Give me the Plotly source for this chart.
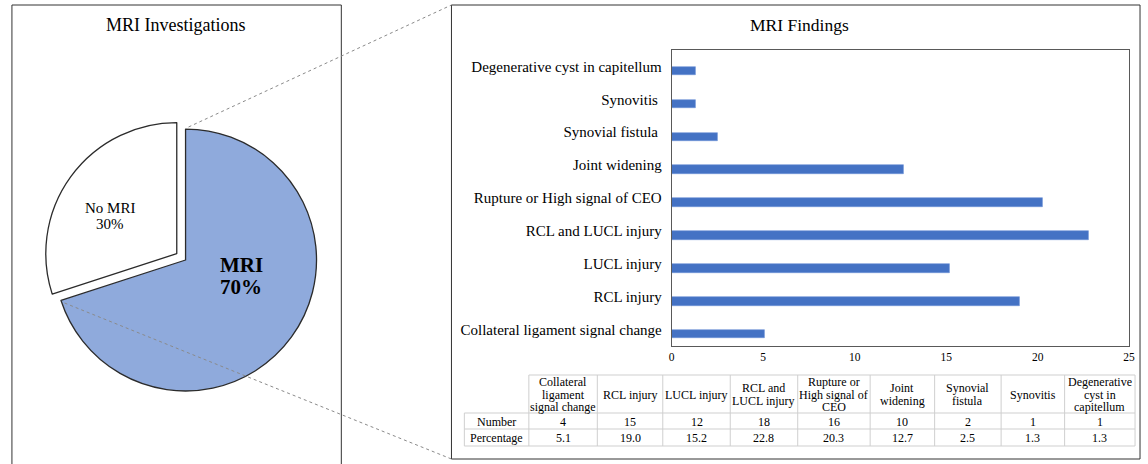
import plotly.graph_objects as go

W, H = 1148, 464

# ---- data ----
pie_labels = ["MRI", "No MRI"]
pie_values = [70, 30]

findings = [
    "Collateral ligament signal change",
    "RCL injury",
    "LUCL injury",
    "RCL and LUCL injury",
    "Rupture or High signal of CEO",
    "Joint widening",
    "Synovial fistula",
    "Synovitis",
    "Degenerative cyst in capitellum",
]
axis_labels = [
    "Collateral ligament signal change",
    "RCL injury",
    "LUCL injury",
    "RCL and LUCL injury",
    "Rupture or High signal of CEO",
    "Joint widening",
    "Synovial fistula\u00a0",
    "Synovitis\u00a0",
    "Degenerative cyst in capitellum",
]
header_lines = [
    ["Collateral", "ligament", "signal change"],
    ["RCL injury"],
    ["LUCL injury"],
    ["RCL and", "LUCL injury"],
    ["Rupture or", "High signal of", "CEO"],
    ["Joint", "widening"],
    ["Synovial", "fistula"],
    ["Synovitis"],
    ["Degenerative", "cyst in", "capitellum"],
]
row_labels = ["Number", "Percentage"]
numbers = [4, 15, 12, 18, 16, 10, 2, 1, 1]
percentages = [5.1, 19.0, 15.2, 22.8, 20.3, 12.7, 2.5, 1.3, 1.3]
x_ticks = [0, 5, 10, 15, 20, 25]

SERIF = "'Liberation Serif', 'Times New Roman', serif"


def px(x):
    return x / W


def py(y):
    return 1 - y / H


def label(text, x, y, size, **kw):
    return dict(text=text, x=px(x), y=py(y), xref="paper", yref="paper",
                xanchor="center", yanchor="middle", showarrow=False,
                font=dict(family=SERIF, size=size, color="#000"), **kw)


fig = go.Figure()

# ---- pie: MRI investigations ----
pull = 0.083
r = 132
cx, cy = 184, 260
half = r * (1 + pull)
fig.add_trace(go.Pie(
    labels=pie_labels,
    values=pie_values,
    sort=False,
    direction="clockwise",
    rotation=0,
    pull=[0, pull],
    marker=dict(colors=["#8FAADC", "#FFFFFF"],
                line=dict(color="#2b2b2b", width=1.3)),
    textinfo="none",
    hoverinfo="label+percent",
    showlegend=False,
    domain=dict(x=[px(cx - half), px(cx + half)],
                y=[py(cy + half), py(cy - half)]),
))

# ---- bars: MRI findings ----
pos = list(range(len(findings)))
fig.add_trace(go.Bar(
    y=pos,
    x=percentages,
    orientation="h",
    width=0.26,
    offset=-0.27,
    marker=dict(color="#4472C4", line=dict(color="#6f93d6", width=0.6)),
    showlegend=False,
    hovertext=findings,
    xaxis="x", yaxis="y",
))

fig.update_layout(
    xaxis=dict(
        domain=[px(674), px(1135)],
        range=[0, 25],
        tickvals=x_ticks,
        ticks="",
        showgrid=False,
        zeroline=False,
        showline=True, mirror=True, linecolor="#595959", linewidth=1,
        tickfont=dict(family=SERIF, size=11.5, color="#000"),
        anchor="y",
    ),
    yaxis=dict(
        domain=[py(346), py(50)],
        range=[-0.5, 8.5],
        tickvals=pos,
        ticktext=axis_labels,
        ticks="",
        showgrid=False,
        zeroline=False,
        showline=True, mirror=True, linecolor="#595959", linewidth=1,
        tickfont=dict(family=SERIF, size=15, color="#000"),
        ticklabelstandoff=6,
        anchor="x",
    ),
)

# ---- data table under the bars (grid + text) ----
col_x = [465, 530, 599, 665, 733, 801, 874, 939, 1006, 1070, 1141]
row_y = [375, 413, 429, 446]
grid = "#cfcfcf"
shapes = []


def hline(y, x0, x1):
    shapes.append(dict(type="line", xref="paper", yref="paper",
                       x0=px(x0), x1=px(x1), y0=py(y), y1=py(y),
                       line=dict(color=grid, width=1)))


def vline(x, y0, y1):
    shapes.append(dict(type="line", xref="paper", yref="paper",
                       x0=px(x), x1=px(x), y0=py(y0), y1=py(y1),
                       line=dict(color=grid, width=1)))


hline(row_y[0], col_x[1], col_x[-1])
for y in row_y[1:]:
    hline(y, col_x[0], col_x[-1])
vline(col_x[0], row_y[1], row_y[-1])
for x in col_x[1:]:
    vline(x, row_y[0], row_y[-1])

annotations = []
head_mid = (row_y[0] + row_y[1]) / 2 + 0.5
line_step = 12.5
for i, lines in enumerate(header_lines):
    xc = (col_x[i + 1] + col_x[i + 2]) / 2
    n = len(lines)
    for k, t in enumerate(lines):
        yc = head_mid + (k - (n - 1) / 2) * line_step
        annotations.append(label(t, xc, yc, 12))

row_values = [[str(v) for v in numbers], [f"{v:.1f}" for v in percentages]]
for j, (name, vals) in enumerate(zip(row_labels, row_values)):
    yc = (row_y[j + 1] + row_y[j + 2]) / 2 + 0.5
    annotations.append(label(name, (col_x[0] + col_x[1]) / 2, yc, 12))
    for i, v in enumerate(vals):
        annotations.append(label(v, (col_x[i + 1] + col_x[i + 2]) / 2, yc, 12))

# ---- frames, connectors and titles ----
shapes += [
    dict(type="rect", xref="paper", yref="paper",
         x0=px(9), x1=px(341), y0=py(470), y1=py(5),
         line=dict(color="#333", width=1)),
    dict(type="rect", xref="paper", yref="paper",
         x0=px(452), x1=px(1146), y0=py(459), y1=py(5),
         line=dict(color="#333", width=1)),
    dict(type="line", xref="paper", yref="paper",
         x0=px(187), y0=py(127), x1=px(452), y1=py(5),
         line=dict(color="#8a8a8a", width=1, dash="dot")),
    dict(type="line", xref="paper", yref="paper",
         x0=px(62), y0=py(303), x1=px(452), y1=py(459),
         line=dict(color="#8a8a8a", width=1, dash="dot")),
]

annotations += [
    label("MRI Investigations", 174, 25, 18),
    label("MRI Findings", 803, 25, 17.5),
    label(f"<b>{pie_labels[0]}</b>", 240, 265, 21),
    label(f"<b>{pie_values[0]}%</b>", 240, 287, 21),
    label(pie_labels[1], 108, 208, 15),
    label(f"{pie_values[1]}%", 108, 224, 15),
]

fig.update_layout(
    width=W, height=H,
    margin=dict(l=0, r=0, t=0, b=0),
    paper_bgcolor="white",
    plot_bgcolor="white",
    shapes=shapes,
    annotations=annotations,
    font=dict(family=SERIF),
    bargap=0,
)

fig.write_html("out.html")
